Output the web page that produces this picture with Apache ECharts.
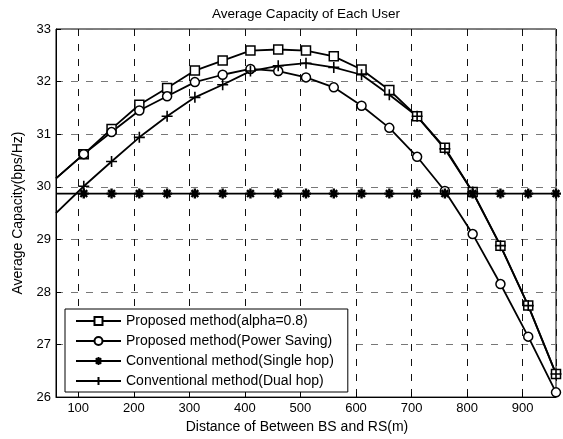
<!DOCTYPE html>
<html>
<head>
<meta charset="utf-8">
<script src="https://cdn.jsdelivr.net/npm/echarts@6/dist/echarts.min.js"></script>
<style>
  html, body { margin: 0; padding: 0; background: #fff; }
  #chart { width: 563px; height: 439px; }
</style>
</head>
<body>
<div id="chart"></div>
<script>
// distance between BS and RS (m); first point only carries the line to the left edge
const distances = [60, 110, 160, 210, 260, 310, 360, 410, 460, 510, 560, 610, 660, 710, 760, 810, 860, 910, 960]
const alpha08 = [30.16, 30.62, 31.10, 31.56, 31.88, 32.21, 32.40, 32.59, 32.61, 32.59, 32.48, 32.23, 31.84, 31.34, 30.74, 29.90, 28.88, 27.74, 26.44]
const powerSaving = [30.16, 30.62, 31.04, 31.45, 31.72, 31.99, 32.13, 32.24, 32.20, 32.08, 31.89, 31.54, 31.12, 30.57, 29.92, 29.10, 28.15, 27.15, 26.09]
const singleHop = [29.87, 29.87, 29.87, 29.87, 29.87, 29.87, 29.87, 29.87, 29.87, 29.87, 29.87, 29.87, 29.87, 29.87, 29.87, 29.87, 29.87, 29.87, 29.87]
const dualHop = [29.50, 30.01, 30.48, 30.94, 31.34, 31.70, 31.94, 32.20, 32.30, 32.35, 32.27, 32.13, 31.75, 31.34, 30.72, 29.90, 28.88, 27.74, 26.44]
const seriesNames = [
  'Proposed method(alpha=0.8)',
  'Proposed method(Power Saving)',
  'Conventional method(Single hop)',
  'Conventional method(Dual hop)',
]

const font = 'Arial, "Liberation Sans", Helvetica, sans-serif'
const plusPath = 'path://M0,5L10,5M5,0L5,10'
const starPath = 'path://M5,0L5,10M0,5L10,5M1.6,1.6L8.4,8.4M8.4,1.6L1.6,8.4'

const toData = (values) =>
  distances.map((x, i) => (i === 0 ? { value: [x, values[i]], symbol: 'none' } : [x, values[i]]))

const makeSeries = (name, values, symbol, size, bw) => ({
  type: 'line',
  name: name,
  data: toData(values),
  symbol: symbol,
  symbolSize: size,
  showAllSymbol: true,
  lineStyle: { color: '#000', width: 1.8 },
  itemStyle: { color: '#fff', borderColor: '#000', borderWidth: bw },
  emphasis: { disabled: true },
})

const chart = echarts.init(document.getElementById('chart'))
const option = {
  animation: false,
  backgroundColor: '#fff',
  textStyle: { fontFamily: font, color: '#000' },
  graphic: [
    {
      type: 'text',
      x: 306,
      y: 14,
      style: { text: 'Average Capacity of Each User', font: '13.5px ' + font, fill: '#000', align: 'center', verticalAlign: 'middle' },
    },
  ],
  grid: { left: 56, right: 7, top: 29, bottom: 40, show: true, borderColor: '#000', borderWidth: 1, backgroundColor: 'transparent' },
  legend: {
    orient: 'vertical',
    left: 65,
    top: 309,
    padding: [5, 14, 4, 10],
    itemGap: 6,
    itemWidth: 45,
    itemHeight: 10,
    backgroundColor: '#fff',
    borderColor: '#000',
    borderWidth: 1,
    textStyle: { fontSize: 14, fontFamily: font, color: '#000' },
    data: seriesNames,
  },
  xAxis: {
    type: 'value',
    min: 60,
    max: 960,
    splitNumber: 9,
    name: 'Distance of Between BS and RS(m)',
    nameLocation: 'middle',
    nameGap: 20,
    nameTextStyle: { fontSize: 14, fontFamily: font, color: '#000', padding: [0, 18, 0, 0] },
    axisLine: { lineStyle: { color: '#000' } },
    axisTick: { inside: true, length: 5, lineStyle: { color: '#000' } },
    axisLabel: { fontSize: 13, fontFamily: font, color: '#000', margin: 5, showMinLabel: false, showMaxLabel: false },
    splitLine: { show: true, lineStyle: { color: '#111', type: [7, 8] } },
  },
  yAxis: {
    type: 'value',
    min: 26,
    max: 33,
    interval: 1,
    name: 'Average Capacity(bps/Hz)',
    nameLocation: 'middle',
    nameGap: 30,
    nameTextStyle: { fontSize: 14, fontFamily: font, color: '#000' },
    axisLine: { show: true, lineStyle: { color: '#000' } },
    axisTick: { show: true, inside: true, length: 5, lineStyle: { color: '#000' } },
    axisLabel: { fontSize: 13, fontFamily: font, color: '#000', margin: 5 },
    splitLine: { show: true, lineStyle: { color: '#777', type: [7, 8] } },
  },
  series: [
    makeSeries(seriesNames[0], alpha08, 'rect', 9, 1.5),
    makeSeries(seriesNames[1], powerSaving, 'circle', 9, 1.5),
    makeSeries(seriesNames[2], singleHop, starPath, 10, 2.4),
    makeSeries(seriesNames[3], dualHop, plusPath, 11, 1.6),
  ],
}
chart.setOption(option)
</script>
</body>
</html>
